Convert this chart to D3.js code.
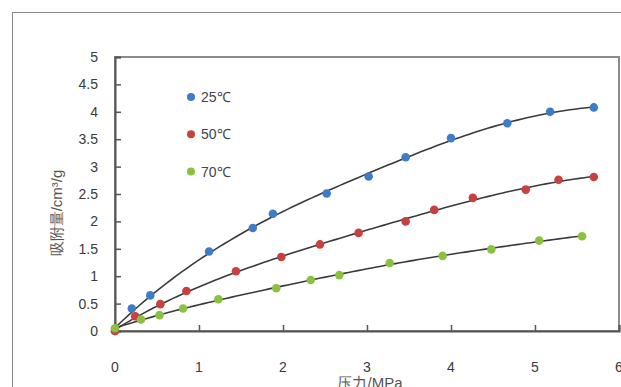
<!DOCTYPE html>
<html><head><meta charset="utf-8">
<script src="https://cdn.jsdelivr.net/npm/d3@7"></script>
<style>body{margin:0;background:#fff}svg{display:block}</style>
</head><body>
<script>
const seriesNames = ["25℃", "50℃", "70℃"];
const p25 = [0, 0.20, 0.42, 1.12, 1.64, 1.88, 2.52, 3.02, 3.46, 4.00, 4.67, 5.18, 5.70];
const v25 = [0, 0.41, 0.65, 1.45, 1.88, 2.14, 2.51, 2.82, 3.17, 3.52, 3.79, 4.00, 4.08];
const p50 = [0, 0.24, 0.54, 0.85, 1.44, 1.98, 2.44, 2.90, 3.46, 3.80, 4.26, 4.89, 5.28, 5.70];
const v50 = [0, 0.27, 0.49, 0.73, 1.09, 1.35, 1.58, 1.79, 2.00, 2.21, 2.43, 2.58, 2.76, 2.81];
const p70 = [0, 0.31, 0.53, 0.81, 1.23, 1.92, 2.33, 2.67, 3.27, 3.90, 4.48, 5.05, 5.56];
const v70 = [0.05, 0.21, 0.29, 0.41, 0.58, 0.78, 0.93, 1.02, 1.24, 1.37, 1.49, 1.65, 1.73];
const xTicks = [0, 1, 2, 3, 4, 5, 6];
const yTicks = [0, 0.5, 1, 1.5, 2, 2.5, 3, 3.5, 4, 4.5, 5];
const colors = ["#3D7CC6", "#C8403F", "#8CC13F"];

const W = 621, H = 387;
const svg = d3.select("body").append("svg").attr("width", W).attr("height", H);
const font = "'Liberation Sans Narrow','Liberation Sans',Arial,sans-serif";

svg.append("rect").attr("x", 12.5).attr("y", 12.5).attr("width", 640).attr("height", 420)
  .attr("fill", "none").attr("stroke", "#8a8a8a").attr("stroke-width", 1);

const x = d3.scaleLinear().domain([0, 6]).range([115, 619]);
const y = d3.scaleLinear().domain([0, 5]).range([331, 57]);

svg.append("rect").attr("x", x(0)).attr("y", y(5)).attr("width", x(6) - x(0)).attr("height", y(0) - y(5))
  .attr("fill", "none").attr("stroke", "#8c8c8c").attr("stroke-width", 2);

const gx = svg.append("g").attr("transform", `translate(0,${y(0)})`)
  .call(d3.axisTop(x).tickValues(xTicks).tickSize(6).tickFormat(""));
gx.selectAll("path").attr("stroke", "#555").attr("stroke-width", 2);
gx.selectAll("line").attr("stroke", "#555").attr("stroke-width", 1.5);
const gy = svg.append("g").attr("transform", `translate(${x(0)},0)`)
  .call(d3.axisRight(y).tickValues(yTicks).tickSize(6).tickFormat(""));
gy.selectAll("path").attr("stroke", "#555").attr("stroke-width", 2);
gy.selectAll("line").attr("stroke", "#555").attr("stroke-width", 1.5);

svg.append("g").selectAll("text").data(xTicks).join("text")
  .attr("x", d => x(d)).attr("y", 372).attr("text-anchor", "middle")
  .attr("font-family", font).attr("font-size", 14).attr("fill", "#3a3a3a").text(d => d);
svg.append("g").selectAll("text").data(yTicks).join("text")
  .attr("x", 98).attr("y", d => y(d) + 5).attr("text-anchor", "end")
  .attr("font-family", font).attr("font-size", 14).attr("fill", "#3a3a3a").text(d => d);

svg.append("text").attr("x", 370).attr("y", 388).attr("text-anchor", "middle")
  .attr("font-family", font).attr("font-size", 15).attr("fill", "#555").text("压力/MPa");
svg.append("text").attr("transform", "translate(62,213) rotate(-90)").attr("text-anchor", "middle")
  .attr("font-family", font).attr("font-size", 15).attr("fill", "#555").text("吸附量/cm³/g");

// local quadratic (LOESS-style) smoother with gaussian weights
function smoother(P, V, h) {
  return t => {
    const w = P.map(p => Math.exp(-0.5 * ((p - t) / h) ** 2));
    const S = k => d3.sum(P, (p, i) => w[i] * (p - t) ** k);
    const T = k => d3.sum(P, (p, i) => w[i] * (p - t) ** k * V[i]);
    const A = [[S(0), S(1), S(2)], [S(1), S(2), S(3)], [S(2), S(3), S(4)]];
    const b = [T(0), T(1), T(2)];
    for (let i = 0; i < 3; i++) for (let j = i + 1; j < 3; j++) {
      const m = A[j][i] / A[i][i];
      for (let k = i; k < 3; k++) A[j][k] -= m * A[i][k];
      b[j] -= m * b[i];
    }
    const c = [0, 0, 0];
    for (let i = 2; i >= 0; i--) {
      let s = b[i];
      for (let k = i + 1; k < 3; k++) s -= A[i][k] * c[k];
      c[i] = s / A[i][i];
    }
    return c[0];
  };
}

const series = [[p25, v25], [p50, v50], [p70, v70]];
const line = d3.line().x(d => x(d[0])).y(d => y(d[1]));
series.forEach(([P, V]) => {
  const f = smoother(P, V, 1.0);
  const pmax = d3.max(P);
  const curve = d3.range(0, 101).map(i => { const p = pmax * i / 100; return [p, Math.max(0, f(p))]; });
  svg.append("path").datum(curve).attr("d", line).attr("fill", "none")
    .attr("stroke", "#3a3a3a").attr("stroke-width", 1.6);
});
series.forEach(([P, V], k) => {
  svg.append("g").selectAll("circle").data(P.map((p, i) => [p, V[i]])).join("circle")
    .attr("cx", d => x(d[0])).attr("cy", d => y(d[1])).attr("r", 4.3)
    .attr("fill", colors[k]);
});

const lg = svg.append("g");
seriesNames.forEach((n, i) => {
  const yy = 97 + i * 37.3;
  lg.append("circle").attr("cx", 191).attr("cy", yy).attr("r", 4).attr("fill", colors[i]);
  lg.append("text").attr("x", 201).attr("y", yy + 5).attr("font-family", font)
    .attr("font-size", 14).attr("fill", "#444").text(n);
});
</script>
</body></html>
